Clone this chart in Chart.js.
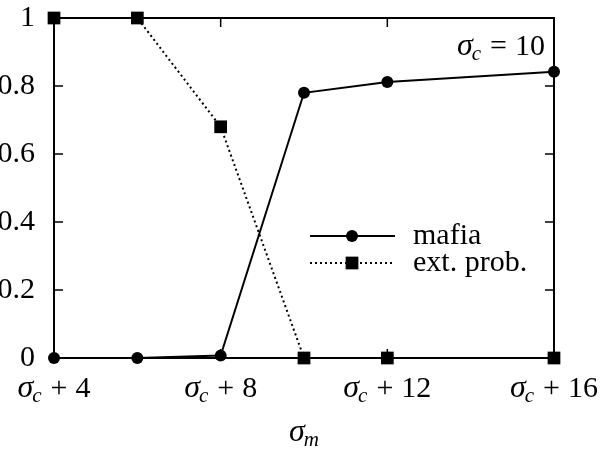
<!DOCTYPE html>
<html>
<head>
<meta charset="utf-8">
<script src="https://cdn.jsdelivr.net/npm/chart.js@4"></script>
<style>
  body { margin: 0; background: #fff; }
  canvas { display: block; }
</style>
</head>
<body>
<canvas id="mafiaChart" width="604" height="450"></canvas>
<script>
// sigma_m offsets above sigma_c (sigma_c = 10)
const sigmaOffsets = [4, 6, 8, 10, 12, 16];
const mafia = [0, 0, 0.007, 0.78, 0.812, 0.842];
const extProb = [1, 1, 0.68, 0, 0, 0];

const xTicks = [4, 8, 12, 16];
const yTicks = [0, 0.2, 0.4, 0.6, 0.8, 1];
const sigmaC = 10;

const serif = "'Liberation Serif', 'DejaVu Serif', serif";
const mainSize = 30;
const subSize = 21;

// sigma with subscript, optionally followed by an operator and a number
// pieces are laid out by hand so the spacing around + and = is wider
function sigmaText(ctx, x, y, sub, op, num, measureOnly) {
  let parts = [
    { t: 'σ', f: 'italic ' + (mainSize + 2) + 'px ' + serif, dy: 0, gap: -1 },
    { t: sub, f: 'italic ' + subSize + 'px ' + serif, dy: 5, gap: op ? 9 : 0 }
  ];
  if (op) {
    parts.push({ t: op, f: mainSize + 'px ' + serif, dy: 0, gap: 8 });
    parts.push({ t: String(num), f: mainSize + 'px ' + serif, dy: 0, gap: 0 });
  }
  let cx = x;
  parts.forEach(p => {
    ctx.font = p.f;
    if (!measureOnly) ctx.fillText(p.t, cx, y + p.dy);
    cx += ctx.measureText(p.t).width + p.gap;
  });
  return cx - x;
}

// box around the plot with inward tick marks, plus all the math text and the legend
const framePlugin = {
  id: 'frame',
  beforeDatasetsDraw(chart) {
    const { ctx, chartArea: a, scales: { x, y } } = chart;
    ctx.save();
    ctx.strokeStyle = '#000';
    ctx.lineWidth = 2;
    ctx.strokeRect(a.left, a.top, a.right - a.left, a.bottom - a.top);
    ctx.lineWidth = 1.5;
    ctx.beginPath();
    yTicks.forEach(v => {
      let py = y.getPixelForValue(v);
      ctx.moveTo(a.left, py); ctx.lineTo(a.left + 9, py);
      ctx.moveTo(a.right, py); ctx.lineTo(a.right - 9, py);
    });
    xTicks.forEach(v => {
      let px = x.getPixelForValue(v);
      ctx.moveTo(px, a.bottom); ctx.lineTo(px, a.bottom - 9);
      ctx.moveTo(px, a.top); ctx.lineTo(px, a.top + 9);
    });
    ctx.stroke();
    ctx.restore();
  },
  afterDraw(chart) {
    const { ctx, chartArea: a, scales: { x } } = chart;
    ctx.save();
    ctx.fillStyle = '#000';
    ctx.textBaseline = 'alphabetic';
    ctx.textAlign = 'left';

    // x tick labels: sigma_c + n
    xTicks.forEach(v => {
      let w = sigmaText(ctx, 0, 0, 'c', '+', v, true);
      sigmaText(ctx, x.getPixelForValue(v) - w / 2, a.bottom + 39, 'c', '+', v);
    });

    // axis title
    let tw = sigmaText(ctx, 0, 0, 'm', null, null, true);
    sigmaText(ctx, (a.left + a.right) / 2 - tw / 2, 441, 'm');

    // sigma_c = 10 note in the corner
    let nw = sigmaText(ctx, 0, 0, 'c', '=', sigmaC, true);
    sigmaText(ctx, a.right - 9 - nw, 55, 'c', '=', sigmaC);

    // legend with line + marker samples
    chart.data.datasets.forEach((ds, i) => {
      let ly = 236 + i * 27;
      ctx.save();
      ctx.strokeStyle = ds.borderColor;
      ctx.lineWidth = ds.borderWidth;
      ctx.setLineDash(ds.borderDash || []);
      ctx.beginPath();
      ctx.moveTo(310, ly);
      ctx.lineTo(395, ly);
      ctx.stroke();
      ctx.restore();
      Chart.helpers.drawPoint(ctx, {
        pointStyle: ds.pointStyle, radius: ds.pointRadius, rotation: 0, borderWidth: 0
      }, 352, ly);
      ctx.font = mainSize + 'px ' + serif;
      ctx.fillText(ds.label, 413, ly + 8);
    });
    ctx.restore();
  }
};

Chart.defaults.font.family = serif;
Chart.defaults.font.size = mainSize;
Chart.defaults.color = '#000';

new Chart(document.getElementById('mafiaChart'), {
  type: 'line',
  data: {
    datasets: [{
      label: 'mafia',
      data: sigmaOffsets.map((x, i) => ({ x: x, y: mafia[i] })),
      borderColor: '#000',
      backgroundColor: '#000',
      borderWidth: 2,
      pointStyle: 'circle',
      pointRadius: 6,
      pointBorderWidth: 0,
      tension: 0,
      clip: false
    }, {
      label: 'ext. prob.',
      data: sigmaOffsets.map((x, i) => ({ x: x, y: extProb[i] })),
      borderColor: '#000',
      backgroundColor: '#000',
      borderWidth: 2,
      borderDash: [2, 3],
      pointStyle: 'rect',
      pointRadius: 9,
      pointBorderWidth: 0,
      tension: 0,
      clip: false
    }]
  },
  options: {
    responsive: false,
    animation: false,
    events: [],
    layout: { padding: { top: 0, right: 50, left: 0, bottom: 0 } },
    plugins: { legend: { display: false }, tooltip: { enabled: false } },
    scales: {
      x: {
        type: 'linear',
        min: 4,
        max: 16,
        grid: { display: false },
        border: { display: false },
        ticks: { display: false },
        afterFit: scale => { scale.height = 92; }
      },
      y: {
        min: 0,
        max: 1,
        grid: { display: false, drawTicks: false },
        border: { display: false },
        ticks: {
          stepSize: 0.2,
          padding: 19,
          callback: v => String(Math.round(v * 10) / 10)
        },
        afterFit: scale => { scale.width = 54; scale.paddingTop = 18; }
      }
    }
  },
  plugins: [framePlugin]
});
</script>
</body>
</html>
